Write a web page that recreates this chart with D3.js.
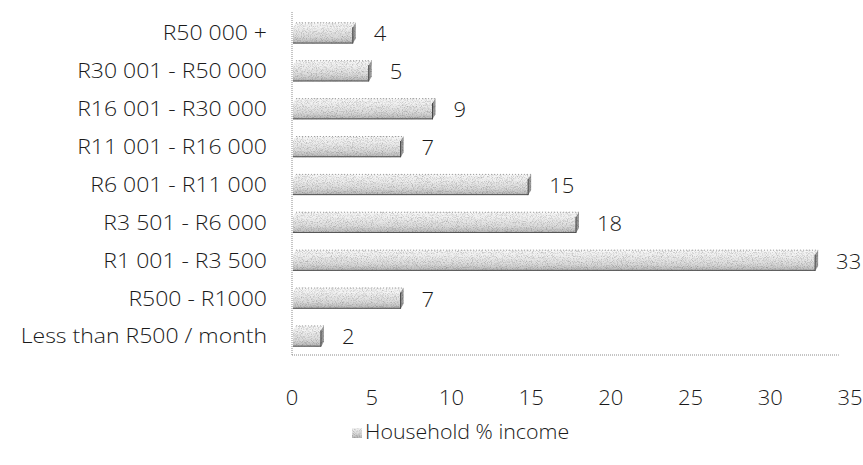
<!DOCTYPE html>
<html>
<head>
<meta charset="utf-8">
<script src="https://cdn.jsdelivr.net/npm/d3@7"></script>
<style>
  html, body { margin: 0; padding: 0; background: #fff; }
  svg { display: block; }
  text { font-family: "Open Sans", Lato, sans-serif; font-weight: 300; fill: #1a1a1a; }
</style>
</head>
<body>
<svg id="chart" width="863" height="465"></svg>
<script>
// Monthly household income bands, top to bottom as listed on the axis
const categories = [
  "R50 000 +",
  "R30 001 - R50 000",
  "R16 001 - R30 000",
  "R11 001 - R16 000",
  "R6 001 - R11 000",
  "R3 501 - R6 000",
  "R1 001 - R3 500",
  "R500 - R1000",
  "Less than R500 / month"
];
const householdPct = [4, 5, 9, 7, 15, 18, 33, 7, 2];
const xTicks = [0, 5, 10, 15, 20, 25, 30, 35];
const seriesName = "Household % income";

const svg = d3.select("#chart");
const margin = { left: 292, right: 13, top: 14, bottom: 110 };
const W = 863, H = 465;
const fontSize = 20;

const x = d3.scaleLinear().domain([0, 35]).range([margin.left, W - margin.right]);
const y = d3.scaleBand().domain(categories).range([margin.top, H - margin.bottom]).paddingInner(0.44).paddingOuter(0.22);

// text set in a slightly widened face
function wideText(sel, sx) {
  return sel.attr("transform", function() {
    const tx = +this.getAttribute("data-x"), ty = +this.getAttribute("data-y");
    return `translate(${tx},${ty}) scale(${sx},1)`;
  });
}

const defs = svg.append("defs");

// fine grainy grey fill for the bars
const grain = defs.append("filter").attr("id", "grain").attr("x", 0).attr("y", 0).attr("width", 1).attr("height", 1);
grain.append("feTurbulence").attr("type", "fractalNoise").attr("baseFrequency", 1.2).attr("numOctaves", 1).attr("seed", 3).attr("result", "noise");
grain.append("feColorMatrix").attr("in", "noise").attr("type", "matrix")
  .attr("values", "0 0 0 0 0  0 0 0 0 0  0 0 0 0 0  0 0 0 -2.2 1.25").attr("result", "dots");
grain.append("feComposite").attr("in", "dots").attr("in2", "SourceGraphic").attr("operator", "in").attr("result", "dotsIn");
grain.append("feComponentTransfer").attr("in", "dotsIn").attr("result", "soft")
  .append("feFuncA").attr("type", "linear").attr("slope", 0.55);
grain.append("feBlend").attr("in", "SourceGraphic").attr("in2", "soft").attr("mode", "multiply");

const frontGrad = defs.append("linearGradient").attr("id", "front").attr("x1", 0).attr("y1", 0).attr("x2", 0).attr("y2", 1);
frontGrad.append("stop").attr("offset", "0%").attr("stop-color", "#f2f2f2");
frontGrad.append("stop").attr("offset", "60%").attr("stop-color", "#dadada");
frontGrad.append("stop").attr("offset", "100%").attr("stop-color", "#b4b4b4");

const topGrad = defs.append("linearGradient").attr("id", "top").attr("x1", 0).attr("y1", 0).attr("x2", 0).attr("y2", 1);
topGrad.append("stop").attr("offset", "0%").attr("stop-color", "#fbfbfb");
topGrad.append("stop").attr("offset", "100%").attr("stop-color", "#eeeeee");

// axis frame (dotted)
const axisColor = "#8a8a8a";
svg.append("line")
  .attr("x1", x(0)).attr("x2", x(0))
  .attr("y1", margin.top - 2).attr("y2", H - margin.bottom)
  .attr("stroke", axisColor).attr("stroke-width", 1).attr("stroke-dasharray", "1,1");
svg.append("line")
  .attr("x1", x(0)).attr("x2", x(34.3))
  .attr("y1", H - margin.bottom).attr("y2", H - margin.bottom)
  .attr("stroke", axisColor).attr("stroke-width", 1).attr("stroke-dasharray", "1,1");

// bars drawn as shallow boxes: top face, front face, right end
const depthX = 3, depthY = 5;
const bars = svg.append("g").selectAll("g").data(categories).join("g");

bars.each(function(c, i) {
  const g = d3.select(this);
  const v = householdPct[i];
  const x0 = x(0) + 1, x1 = x(v);
  const yt = y(c), bh = y.bandwidth();
  const fx1 = x1 - depthX;
  // top face
  g.append("path")
    .attr("d", `M${x0},${yt + depthY} L${x0 + depthX},${yt} L${x1},${yt} L${fx1},${yt + depthY} Z`)
    .attr("fill", "url(#top)").attr("filter", "url(#grain)");
  g.append("line")
    .attr("x1", x0 + depthX).attr("x2", x1).attr("y1", yt + 0.5).attr("y2", yt + 0.5)
    .attr("stroke", "#a0a0a0").attr("stroke-dasharray", "1,2");
  // front face
  g.append("rect")
    .attr("x", x0).attr("y", yt + depthY)
    .attr("width", Math.max(0, fx1 - x0)).attr("height", bh - depthY)
    .attr("fill", "url(#front)").attr("filter", "url(#grain)");
  g.append("line")
    .attr("x1", x0).attr("x2", fx1).attr("y1", yt + bh - 0.5).attr("y2", yt + bh - 0.5)
    .attr("stroke", "#555").attr("stroke-width", 1);
  // right end
  g.append("path")
    .attr("d", `M${fx1},${yt + depthY} L${x1},${yt} L${x1},${yt + bh - depthY} L${fx1},${yt + bh} Z`)
    .attr("fill", "#9a9a9a").attr("filter", "url(#grain)");
  g.append("line")
    .attr("x1", fx1).attr("x2", fx1).attr("y1", yt + depthY).attr("y2", yt + bh)
    .attr("stroke", "#444").attr("stroke-width", 1);
});

// value labels
svg.append("g").selectAll("text").data(categories).join("text")
  .attr("data-x", (c, i) => x(householdPct[i]) + 18)
  .attr("data-y", c => y(c) + y.bandwidth() / 2 + 3)
  .attr("dominant-baseline", "middle")
  .attr("font-size", fontSize)
  .text((c, i) => householdPct[i])
  .call(wideText, 1.1);

// category labels
svg.append("g").selectAll("text").data(categories).join("text")
  .attr("data-x", 267)
  .attr("data-y", c => y(c) + y.bandwidth() / 2 + 2)
  .attr("text-anchor", "end")
  .attr("dominant-baseline", "middle")
  .attr("font-size", fontSize)
  .text(c => c)
  .call(wideText, 1.15);

// x tick labels
svg.append("g").selectAll("text").data(xTicks).join("text")
  .attr("data-x", d => x(d))
  .attr("data-y", 400)
  .attr("text-anchor", "middle")
  .attr("dominant-baseline", "middle")
  .attr("font-size", fontSize)
  .text(d => d)
  .call(wideText, 1.1);

// legend
const legend = svg.append("g").attr("transform", "translate(352,433)");
legend.append("rect").attr("x", 0).attr("y", -5).attr("width", 10).attr("height", 10)
  .attr("fill", "url(#front)").attr("filter", "url(#grain)");
legend.append("text").attr("data-x", 13).attr("data-y", 1).attr("dominant-baseline", "middle")
  .attr("font-size", fontSize).text(seriesName)
  .call(wideText, 1.07);
</script>
</body>
</html>
